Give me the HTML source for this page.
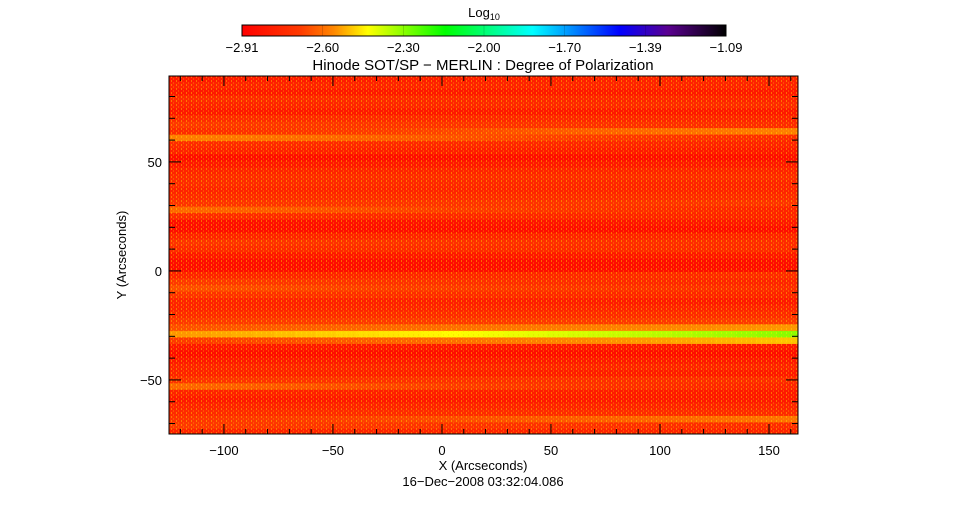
<!DOCTYPE html>
<html><head><meta charset="utf-8"><style>
body{margin:0;background:#fff;}
svg text{font-family:"Liberation Sans",sans-serif;fill:#000;}
</style></head><body>
<svg id="c" width="968" height="512" viewBox="0 0 968 512" xmlns="http://www.w3.org/2000/svg">
<defs>
<linearGradient id="cmap" x1="0" x2="1" y1="0" y2="0">
<stop offset="0" stop-color="#ff0000"/><stop offset="0.12" stop-color="#ff3a00"/><stop offset="0.19" stop-color="#ff8800"/>
<stop offset="0.26" stop-color="#ffff00"/><stop offset="0.42" stop-color="#00ff00"/><stop offset="0.6" stop-color="#00ffff"/>
<stop offset="0.78" stop-color="#0000ff"/><stop offset="0.88" stop-color="#5a0090"/><stop offset="1" stop-color="#000000"/>
</linearGradient>
<pattern id="tex" width="5" height="4" patternUnits="userSpaceOnUse">
<rect x="1" y="0" width="1" height="2" fill="#ffee00" opacity="0.4"/>
<rect x="3" y="2" width="1" height="2" fill="#ffb000" opacity="0.3"/>
</pattern>
<clipPath id="pc"><rect x="169" y="76" width="629" height="358"/></clipPath>
</defs>
<g id="heat" clip-path="url(#pc)"></g>
<rect x="169" y="76" width="629" height="358" fill="url(#tex)"/>
<rect x="169" y="76" width="629" height="358" fill="none" stroke="#000" stroke-width="1"/>
<g id="axes"></g>
<text x="483" y="70" font-size="15" text-anchor="middle">Hinode SOT/SP − MERLIN : Degree of Polarization</text>
<rect x="242" y="25" width="484" height="11" fill="url(#cmap)" stroke="#000" stroke-width="1"/>
<text x="484" y="17" font-size="13" text-anchor="middle">Log<tspan font-size="9" dy="3">10</tspan></text>
<g id="cbar"></g>
<text x="483" y="470" font-size="13" text-anchor="middle">X (Arcseconds)</text>
<text x="483" y="486" font-size="13" text-anchor="middle">16−Dec−2008 03:32:04.086</text>
<text x="126" y="255" font-size="13" text-anchor="middle" transform="rotate(-90 126 255)">Y (Arcseconds)</text>
</svg>
<script>
const rowY=[88,85,82,79,76,73,70,67,64,61,58,55,52,49,46,43,40,37,34,31,28,25,22,19,16,13,10,7,4,1,-2,-5,-8,-11,-14,-17,-20,-23,-26,-29,-32,-35,-38,-41,-44,-47,-50,-53,-56,-59,-62,-65,-68,-71,-74];
const rowLeft=[-2.82,-2.78,-2.82,-2.75,-2.78,-2.82,-2.75,-2.7,-2.75,-2.58,-2.75,-2.78,-2.86,-2.82,-2.78,-2.75,-2.75,-2.78,-2.75,-2.72,-2.62,-2.75,-2.86,-2.86,-2.78,-2.72,-2.75,-2.82,-2.86,-2.86,-2.78,-2.7,-2.66,-2.72,-2.78,-2.78,-2.75,-2.7,-2.66,-2.55,-2.7,-2.82,-2.86,-2.82,-2.78,-2.78,-2.72,-2.62,-2.78,-2.82,-2.78,-2.75,-2.72,-2.7,-2.78];
const rowRight=[-2.78,-2.78,-2.82,-2.78,-2.75,-2.82,-2.78,-2.75,-2.58,-2.75,-2.78,-2.82,-2.86,-2.82,-2.78,-2.75,-2.78,-2.78,-2.75,-2.72,-2.78,-2.78,-2.82,-2.86,-2.78,-2.75,-2.75,-2.82,-2.86,-2.86,-2.75,-2.78,-2.75,-2.78,-2.82,-2.78,-2.75,-2.7,-2.55,-2.3,-2.5,-2.82,-2.86,-2.82,-2.78,-2.82,-2.75,-2.78,-2.82,-2.82,-2.78,-2.75,-2.6,-2.75,-2.78];
const xTicks=[-100,-50,0,50,100,150];
const yTicks=[-50,0,50];
const cbarLabels=["-2.91","-2.60","-2.30","-2.00","-1.70","-1.39","-1.09"];
const vmin=-2.91,vmax=-1.09;
const X0=-125.2,X1=163.3,Y0=-74.8,Y1=89.4;
const px=v=>169+(v-X0)/(X1-X0)*629;
const py=v=>434-(v-Y0)/(Y1-Y0)*358;
const stops=[[0,[255,0,0]],[0.12,[255,58,0]],[0.19,[255,136,0]],[0.26,[255,255,0]],[0.42,[0,255,0]],[0.6,[0,255,255]],[0.78,[0,0,255]],[0.88,[90,0,144]],[1,[0,0,0]]];
function cmap(v){let t=Math.max(0,Math.min(1,(v-vmin)/(vmax-vmin)));
 for(let i=1;i<stops.length;i++){if(t<=stops[i][0]){const a=stops[i-1],b=stops[i],f=(t-a[0])/(b[0]-a[0]);
 return `rgb(${a[1].map((c,k)=>Math.round(c+(b[1][k]-c)*f)).join(',')})`;}}return 'rgb(0,0,0)';}
const NS="http://www.w3.org/2000/svg";
function mk(tag,at,parent){const e=document.createElementNS(NS,tag);for(const k in at)e.setAttribute(k,at[k]);parent.appendChild(e);return e;}
const heat=document.getElementById('heat');
const nSeg=30;
for(let i=0;i<rowY.length;i++){
 const yt=py(rowY[i]+1.5),yb=py(rowY[i]-1.5);
 for(let s=0;s<nSeg;s++){
  const f=s/(nSeg-1);
  const xa=X0+(X1-X0)*s/nSeg,xb=X0+(X1-X0)*(s+1)/nSeg;
  const v=rowLeft[i]+(rowRight[i]-rowLeft[i])*f;
  const r=mk('rect',{x:px(xa),y:yt,width:px(xb)-px(xa)+0.5,height:yb-yt+0.5,fill:cmap(v)},heat);
  
  
 }
}
const ax=document.getElementById('axes');
for(let v=-120;v<=160;v+=10){const x=px(v);const major=v%50===0;const L=major?10:5;
 mk('line',{x1:x,x2:x,y1:434,y2:434-L,stroke:'#000'},ax);mk('line',{x1:x,x2:x,y1:76,y2:76+L,stroke:'#000'},ax);}
for(let v=-70;v<=80;v+=10){const y=py(v);const major=v%50===0;const L=major?12:6;
 mk('line',{x1:169,x2:169+L,y1:y,y2:y,stroke:'#000'},ax);mk('line',{x1:798,x2:798-L,y1:y,y2:y,stroke:'#000'},ax);}
xTicks.forEach(v=>{const t=mk('text',{x:px(v),y:455,'font-size':13,'text-anchor':'middle'},ax);t.textContent=String(v).replace('-','−');
 
 });
yTicks.forEach(v=>{const t=mk('text',{x:162,y:py(v)+5,'font-size':13,'text-anchor':'end'},ax);t.textContent=String(v).replace('-','−');
 
 });
const cb=document.getElementById('cbar');
cbarLabels.forEach((s,i)=>{const x=242+484*i/(cbarLabels.length-1);
 mk('line',{x1:x,x2:x,y1:25,y2:36,stroke:'#000','stroke-width':0.3,opacity:0.5},cb);
 const t=mk('text',{x:x,y:52,'font-size':13,'text-anchor':'middle'},cb);t.textContent=s.replace('-','−');
 
 });
</script>
</body></html>
